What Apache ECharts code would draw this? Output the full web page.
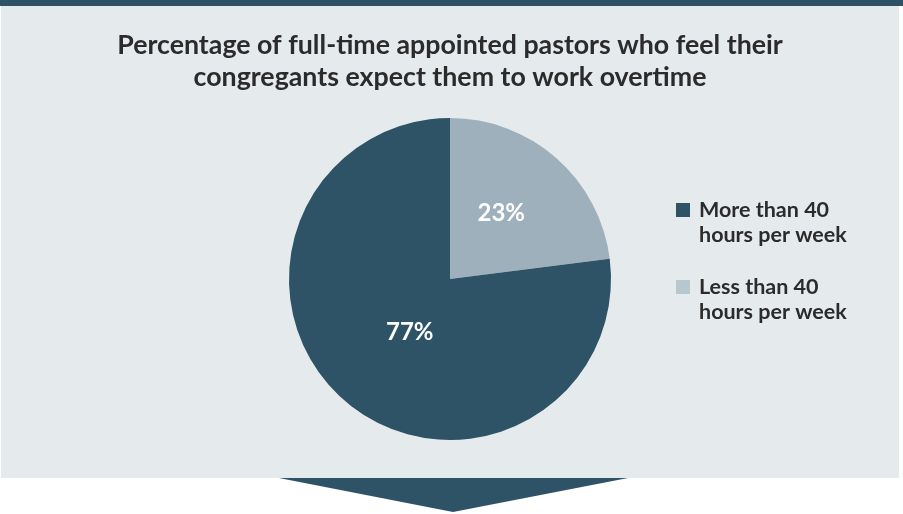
<!DOCTYPE html>
<html>
<head>
<meta charset="utf-8">
<style>
  html, body { margin: 0; padding: 0; background: #ffffff; }
  #chart { width: 903px; height: 514px; }
</style>
<script src="https://cdn.jsdelivr.net/npm/echarts@6/dist/echarts.min.js"></script>
</head>
<body>
<div id="chart"></div>
<script>
// Survey shares, in drawing order (clockwise from 12 o'clock)
const categories = ['Less than 40 hours per week', 'More than 40 hours per week'];
const shares = [23, 77];
const legendLabels = {
  'More than 40 hours per week': 'More than 40\nhours per week',
  'Less than 40 hours per week': 'Less than 40\nhours per week'
};
const legendOrder = ['More than 40 hours per week', 'Less than 40 hours per week'];

const DARK = '#2e5266';
const LIGHT = '#9eb0bc';
const LIGHT_KEY = '#b8c6ce';
const sliceColors = { 'Less than 40 hours per week': LIGHT, 'More than 40 hours per week': DARK };
const keyColors = { 'Less than 40 hours per week': LIGHT_KEY, 'More than 40 hours per week': DARK };
// small nudges so each percentage sits nicely inside its slice
const labelOffsets = { 'Less than 40 hours per week': [-4, -3], 'More than 40 hours per week': [15, -9] };

const chart = echarts.init(document.getElementById('chart'), null, { renderer: 'canvas' });

chart.setOption({
  backgroundColor: '#ffffff',
  animation: false,
  graphic: [
    { type: 'rect', z: -10, shape: { x: 1, y: 0, width: 898, height: 478 }, style: { fill: '#e5eaed' } },
    { type: 'rect', z: -9, shape: { x: 0, y: 0, width: 903, height: 6 }, style: { fill: DARK } },
    { type: 'polygon', z: -9, shape: { points: [[279, 478], [628, 478], [453, 512]] }, style: { fill: DARK } }
  ],
  title: {
    text: 'Percentage of full-time appointed pastors who feel their\ncongregants expect them to work overtime',
    left: 450,
    top: 29,
    padding: 0,
    textAlign: 'center',
    textStyle: {
      fontFamily: 'Lato',
      fontWeight: 'bold',
      fontSize: 26.75,
      lineHeight: 32,
      color: '#2b2b2b'
    }
  },
  legend: {
    orient: 'vertical',
    left: 676,
    top: 172.5,
    padding: 0,
    itemWidth: 14,
    itemHeight: 14,
    itemGap: 2,
    icon: 'rect',
    selectedMode: false,
    data: legendOrder.map(n => ({ name: n, itemStyle: { color: keyColors[n] } })),
    // leading blank line keeps the first text line level with the key square
    formatter: n => '\n' + legendLabels[n],
    textStyle: {
      fontFamily: 'Lato',
      fontWeight: 'bold',
      fontSize: 21.5,
      lineHeight: 25,
      color: '#2b2b2b',
      padding: [0, 0, 0, 4]
    }
  },
  series: [{
    type: 'pie',
    center: [450, 279],
    radius: [0, 161],
    startAngle: 90,
    clockwise: true,
    label: {
      show: true,
      position: 'inside',
      formatter: p => p.value + '%',
      color: '#ffffff',
      fontFamily: 'Lato',
      fontWeight: 'bold',
      fontSize: 24
    },
    labelLine: { show: false },
    emphasis: { disabled: true },
    data: categories.map((c, i) => ({
      name: c,
      value: shares[i],
      itemStyle: { color: sliceColors[c] },
      label: { offset: labelOffsets[c] }
    }))
  }]
});
</script>
</body>
</html>
